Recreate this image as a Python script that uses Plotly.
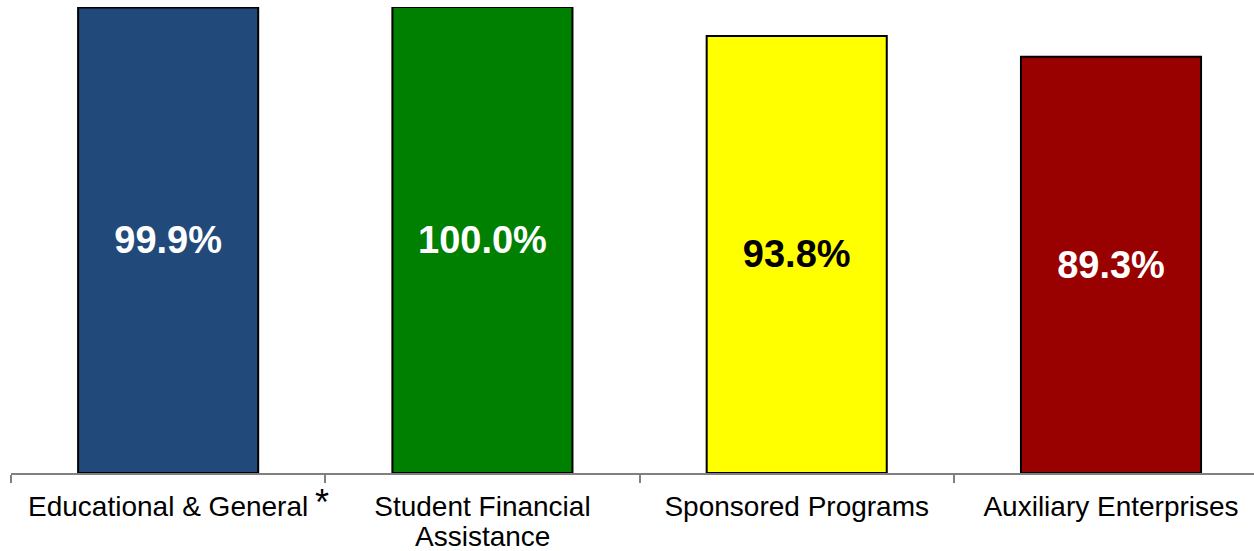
import plotly.graph_objects as go

# Category names, one list entry per printed line
category_lines = [["Educational & General"],
                  ["Student Financial", "Assistance"],
                  ["Sponsored Programs"],
                  ["Auxiliary Enterprises"]]
categories = [" ".join(lines) for lines in category_lines]
values = [99.9, 100.0, 93.8, 89.3]
value_labels = ["99.9%", "100.0%", "93.8%", "89.3%"]
bar_colors = ["#214A7B", "#008000", "#FFFF00", "#990000"]
label_colors = ["white", "white", "black", "white"]

FONT = "Arial, Liberation Sans, sans-serif"
LABEL_SIZE = 28

fig = go.Figure(
    go.Bar(
        x=categories,
        y=values,
        text=value_labels,
        textposition="inside",
        insidetextanchor="middle",
        textangle=0,
        textfont=dict(family=FONT, size=38, color=label_colors, weight="bold"),
        marker=dict(color=bar_colors, line=dict(color="black", width=2)),
        cliponaxis=False,
    )
)

fig.update_layout(
    width=1254,
    height=551,
    margin=dict(l=11, r=0, t=7, b=78, autoexpand=False),
    plot_bgcolor="white",
    paper_bgcolor="white",
    bargap=0.427,
    showlegend=False,
    font=dict(family=FONT, color="black"),
)

# First line of each name is the tick label; the axis ticks sit on category boundaries
fig.update_xaxes(
    range=[-0.5, 3.455],
    automargin=False,
    tickson="boundaries",
    ticks="outside",
    ticklen=8,
    tickcolor="#808080",
    tickwidth=1.5,
    showline=True,
    linecolor="#808080",
    linewidth=1.5,
    showgrid=False,
    ticklabelstandoff=8,
    tickfont=dict(family=FONT, size=LABEL_SIZE, color="black"),
    labelalias={full: lines[0] for full, lines in zip(categories, category_lines)},
)

fig.update_yaxes(range=[0, 100], visible=False, showgrid=False, zeroline=False)

# Continuation lines of wrapped names, set a little tighter than the default line height
for cat, lines in zip(categories, category_lines):
    for i, line in enumerate(lines[1:], start=1):
        fig.add_annotation(
            x=cat, y=0, xref="x", yref="y",
            text=line, showarrow=False,
            yanchor="top",
            font=dict(family=FONT, size=LABEL_SIZE, color="black"),
            yshift=-14 - 32 * i,
        )

# Footnote marker next to the first category label
fig.add_annotation(
    x=0.5, y=0, xref="x", yref="y",
    text="*", showarrow=False,
    yanchor="top",
    font=dict(family=FONT, size=36, color="black"),
    xshift=-3, yshift=-7,
)

fig.write_html("out.html")
